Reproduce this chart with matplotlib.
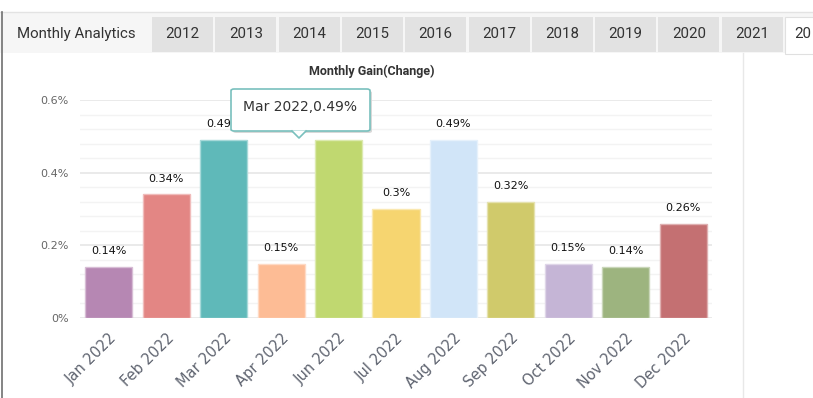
import numpy as np
import matplotlib
matplotlib.use("Agg")
import matplotlib.pyplot as plt
from matplotlib.patches import Rectangle, FancyBboxPatch, Polygon
from matplotlib.colors import to_rgb

# data
months = ['Jan 2022', 'Feb 2022', 'Mar 2022', 'Apr 2022', 'Jun 2022', 'Jul 2022',
          'Aug 2022', 'Sep 2022', 'Oct 2022', 'Nov 2022', 'Dec 2022']
gains = [0.14, 0.34, 0.49, 0.15, 0.49, 0.3, 0.49, 0.32, 0.15, 0.14, 0.26]
colors = ['#b687b3', '#e38684', '#5fb9b9', '#fdbc95', '#c0d870', '#f6d570',
          '#d1e5f8', '#d0ca6b', '#c5b5d6', '#9db47f', '#c47072']
# last tab is cut off by the screenshot edge, only "20" shows
years = ['2012', '2013', '2014', '2015', '2016', '2017', '2018', '2019', '2020', '2021', '20']
yticks = [0, 0.2, 0.4, 0.6]

W, H = 813, 398
fig = plt.figure(figsize=(W / 100, H / 100), dpi=100)
fig.patch.set_facecolor('white')


def rect(x, y, w, h, **kw):
    # rectangle in pixel coords (top-left origin)
    r = Rectangle((x / W, 1 - (y + h) / H), w / W, h / H, transform=fig.transFigure, **kw)
    fig.add_artist(r)
    return r


def ftext(x, y, s, **kw):
    return fig.text(x / W, 1 - y / H, s, **kw)


# header / tab bar
rect(0, 12, W, 41, facecolor='#f6f6f6', edgecolor='none')
fig.add_artist(plt.Line2D([0, 1], [1 - 12 / H] * 2, color='#e3e3e3', lw=1))
ftext(76, 34, 'Monthly Analytics', ha='center', va='center', fontsize=10.8,
      family='Roboto', color='#333333')
for i, yr in enumerate(years):
    x0 = 152 + i * 63.3
    if i == len(years) - 1:
        rect(x0, 17, 70, 37, facecolor='white', edgecolor='#e0e0e0', lw=0.8)
        ftext(x0 + 9, 34, yr, ha='left', va='center', fontsize=10.8,
              family='Roboto', color='#333333')
    else:
        rect(x0, 17, 61, 35, facecolor='#e2e2e2', edgecolor='none')
        ftext(x0 + 30.5, 34, yr, ha='center', va='center', fontsize=10.8,
              family='Roboto', color='#333333')

# left border and right separator
fig.add_artist(plt.Line2D([2 / W] * 2, [0, 1 - 12 / H], color='#707070', lw=1.2))
fig.add_artist(plt.Line2D([743 / W] * 2, [0, 1 - 53 / H], color='#e8e8e8', lw=1))

# title
ftext(372, 71, 'Monthly Gain(Change)', ha='center', va='center', fontsize=9,
      fontweight='bold', family='Roboto', color='#333333')

# chart
ax = fig.add_axes([80 / W, 80 / H, 632 / W, 218 / H])
x = np.arange(len(months))
edge = [tuple(0.55 * np.array(to_rgb(c)) + 0.45) for c in colors]
ax.bar(x, gains, width=0.82, color=colors, edgecolor=edge, linewidth=1, zorder=3)
for xi, v in zip(x, gains):
    ax.text(xi, v + 0.03, f'{v:g}%', ha='center', va='bottom', fontsize=8,
            color='#111111', zorder=4)

ax.set_xlim(-0.5, len(months) - 0.5)
ax.set_ylim(0, 0.6)
ax.set_yticks(yticks)
ax.set_yticklabels([f'{t:g}%' for t in yticks])
ax.set_yticks(np.arange(0, 0.6, 0.04), minor=True)
ax.grid(axis='y', which='major', color='#e6e6e6', lw=1.2, zorder=0)
ax.grid(axis='y', which='minor', color='#f3f3f3', lw=1, zorder=0)
ax.tick_params(axis='y', which='both', length=0, labelsize=8, labelcolor='#666666', pad=8)
ax.set_xticks(x)
ax.set_xticklabels(months, rotation=45, ha='right', rotation_mode='anchor',
                   fontsize=10.5, color='#5f6470')
ax.tick_params(axis='x', length=0, pad=9)
for s in ax.spines.values():
    s.set_visible(False)

# tooltip for Mar 2022
shadow = FancyBboxPatch((233 / W, 1 - 133 / H), 139 / W, 42 / H,
                        boxstyle='round,pad=0,rounding_size=0.004',
                        transform=fig.transFigure, facecolor='#d8d8d8',
                        edgecolor='none', zorder=10)
fig.add_artist(shadow)
box = FancyBboxPatch((231 / W, 1 - 131 / H), 139 / W, 42 / H,
                     boxstyle='round,pad=0,rounding_size=0.004',
                     transform=fig.transFigure, facecolor='white',
                     edgecolor='#79c0bd', lw=1.2, zorder=11)
fig.add_artist(box)
tri = Polygon([(292 / W, 1 - 130.5 / H), (306 / W, 1 - 130.5 / H), (299 / W, 1 - 138 / H)],
              closed=True, transform=fig.transFigure, facecolor='white',
              edgecolor='none', zorder=12)
fig.add_artist(tri)
fig.add_artist(plt.Line2D([292 / W, 299 / W, 306 / W],
                          [1 - 131 / H, 1 - 138 / H, 1 - 131 / H],
                          color='#79c0bd', lw=1.2, zorder=12))
ftext(300, 107, f'{months[2]},{gains[2]:g}%', ha='center', va='center',
      fontsize=10, color='#333333', zorder=13)

fig.savefig('out.png', dpi=100)
